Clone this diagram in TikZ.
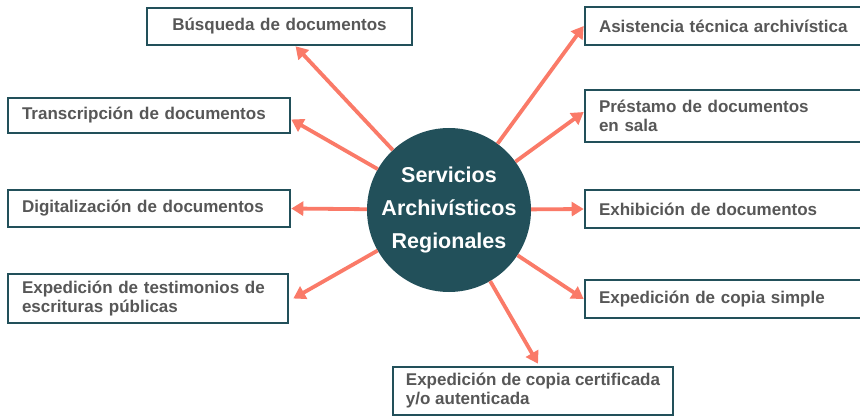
\documentclass[tikz,border=0pt]{standalone}
\usepackage{fontspec}
\setmainfont{Liberation Sans}
\usetikzlibrary{arrows.meta,calc}

\definecolor{hubteal}{HTML}{22505A}
\definecolor{linksalmon}{HTML}{FA7A68}
\definecolor{labelgray}{HTML}{575757}

\begin{document}
\begin{tikzpicture}[x=1pt,y=-1pt,
    box/.style={draw=hubteal, line width=2.6pt, fill=white, inner xsep=14pt, inner ysep=0pt,
      align=left, text=labelgray, font=\fontsize{17}{19}\selectfont\bfseries},
    hub/.style={circle, fill=hubteal, minimum size=164pt, inner sep=0pt, align=center,
      text=white, font=\fontsize{21.5}{33}\selectfont\bfseries},
    link/.style={draw=linksalmon, line width=3.8pt, -{Triangle[length=12pt,width=14pt]}}]
  \useasboundingbox (0,0) rectangle (860,417);

  % central circle
  \node[hub] (hub) at (449,210) {Servicios\\Archivísticos\\Regionales};

  % left column
  \node[box, align=center, minimum width=265pt, minimum height=37pt, text width=237pt] (busq) at (279.5,26.5) {Búsqueda de documentos};
  \node[box, minimum width=282pt, minimum height=35pt, text width=254pt] (trans) at (149,115.5) {Transcripción de documentos};
  \node[box, minimum width=282pt, minimum height=37pt, text width=254pt] (digit) at (149,208.5) {Digitalización de documentos};
  \node[box, minimum width=280pt, minimum height=49pt, text width=252pt] (test) at (148,298.5) {Expedición de testimonios de\\escrituras públicas};

  % right column
  \node[box, minimum width=277pt, minimum height=38pt, text width=249pt] (asist) at (723.5,26) {Asistencia técnica archivística};
  \node[box, minimum width=277pt, minimum height=52pt, text width=249pt] (prest) at (723.5,116) {Préstamo de documentos\\en sala};
  \node[box, minimum width=277pt, minimum height=38pt, text width=249pt] (exhib) at (723.5,209) {Exhibición de documentos};
  \node[box, minimum width=277pt, minimum height=38pt, text width=249pt] (simple) at (723.5,299) {Expedición de copia simple};

  % bottom
  \node[box, inner xsep=8pt, minimum width=280pt, minimum height=48pt] (cert) at (533,391) {Expedición de copia certificada\\y/o autenticada};

  % arrow tips on the boxes
  \coordinate (tbusq) at ($(busq.south west)!0.56!(busq.south east)$);
  \coordinate (ttrans) at ($(trans.east)+(0,4)$);
  \coordinate (tdigit) at (digit.east);
  \coordinate (ttest) at ($(test.east)+(4,0)$);
  \coordinate (tasist) at (asist.west);
  \coordinate (tprest) at ($(prest.west)+(0,-4)$);
  \coordinate (texhib) at (exhib.west);
  \coordinate (tsimple) at (simple.west);
  \coordinate (tcert) at ($(cert.north)+(5,-2)$);

  % arrows from the circle
  \foreach \t in {tbusq,ttrans,tdigit,ttest,tasist,tprest,texhib,tsimple,tcert}
    \draw[link] (hub) -- (\t);
\end{tikzpicture}
\end{document}
